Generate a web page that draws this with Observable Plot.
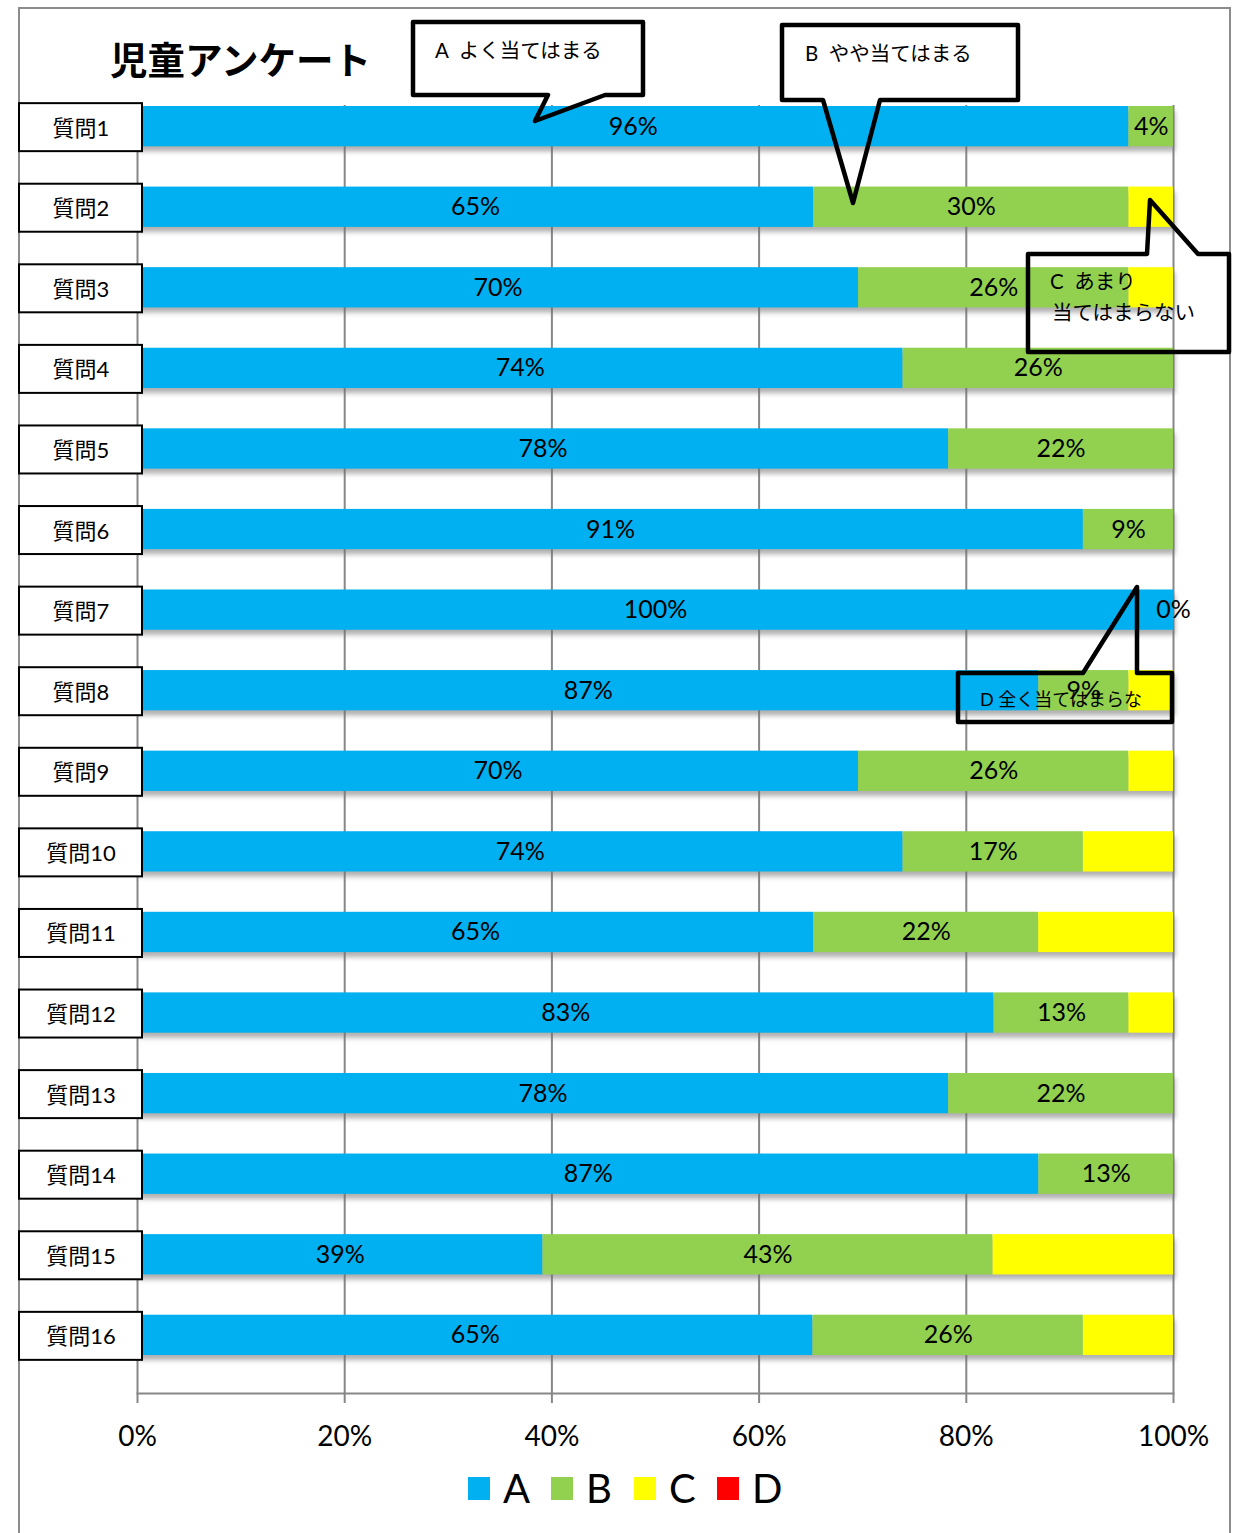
<!DOCTYPE html>
<html>
<head>
<meta charset="utf-8">
<script src="https://cdn.jsdelivr.net/npm/d3@7"></script>
<script src="https://cdn.jsdelivr.net/npm/@observablehq/plot@0.6"></script>
<style>
  html, body { margin: 0; padding: 0; background: #fff; }
  svg { display: block; }
</style>
</head>
<body>
<div id="chart"></div>
<script>
// ---- data ----
const questions = ["質問1","質問2","質問3","質問4","質問5","質問6","質問7","質問8","質問9","質問10","質問11","質問12","質問13","質問14","質問15","質問16"];
const categories = ["A","B","C","D"];
const categoryColors = ["#00B0F0","#92D050","#FFFF00","#FF0000"];
const valuesA = [95.7,65.2,69.6,73.9,78.3,91.3,100,87.0,69.6,73.9,65.2,82.6,78.3,87.0,39.1,65.2];
const valuesB = [4.3,30.4,26.1,26.1,21.7,8.7,0,8.7,26.1,17.4,21.7,13.0,21.7,13.0,43.4,26.1];
const valuesC = [0,4.3,4.3,0,0,0,0,4.3,4.3,8.7,13.0,4.3,0,0,17.4,8.7];
const valuesD = [0,0,0,0,0,0,0,0,0,0,0,0,0,0,0,0];
const tickValues = [0,20,40,60,80,100];
const title = "児童アンケート";
const calloutTexts = {
  A: ["A  よく当てはまる"],
  B: ["B  やや当てはまる"],
  C: ["C  あまり", "当てはまらない"],
  D: ["D 全く当てはまらな"]
};

// ---- build table ----
const seriesValues = [valuesA, valuesB, valuesC, valuesD];
const rows = [];
questions.forEach((q, i) => {
  categories.forEach((c, j) => rows.push({q, cat: c, value: seriesValues[j][i]}));
});

const W = 1242, H = 1533;
const labelFont = "Lato, 'Noto Sans CJK JP', sans-serif";
const jpFont = "'Noto Sans CJK JP', 'Noto Sans', sans-serif";

const plot = Plot.plot({
  width: W,
  height: H,
  marginLeft: 137,
  marginRight: 69,
  marginTop: 105,
  marginBottom: 140,
  style: {fontFamily: labelFont, background: "white"},
  x: {domain: [0, 1]},
  y: {domain: questions, range: [106, 1355], paddingInner: 0.5, paddingOuter: 0, round: false, axis: null},
  color: {domain: categories, range: categoryColors},
  marks: [
    Plot.gridX({ticks: tickValues.map(d => d / 100), stroke: "#878787", strokeOpacity: 1, strokeWidth: 2}),
    // bar shadow
    Plot.barX(questions, {y: d => d, x1: 0, x2: 1, fill: "#6f6f6f", fillOpacity: 0.55, dx: 2, dy: 5}),
    Plot.barX(rows, Plot.stackX({x: "value", y: "q", z: "cat", fill: "cat", offset: "normalize", order: categories})),
    Plot.text(rows, Plot.stackX({
      x: "value", y: "q", z: "cat", offset: "normalize", order: categories,
      text: d => (d.cat === "A" || d.cat === "B") ? Math.round(d.value) + "%" : null,
      fontSize: 25, fill: "black"
    })),
    Plot.frame({anchor: "bottom", stroke: "#878787", strokeWidth: 2}),
    Plot.axisX({
      ticks: tickValues.map(d => d / 100),
      tickFormat: d3.format(".0%"),
      tickSize: 10, tickPadding: 23,
      fontSize: 28, stroke: "#878787", strokeWidth: 2, fill: "black", label: null
    })
  ]
});

document.getElementById("chart").appendChild(plot);

const svg = d3.select(plot);
svg.attr("font-family", labelFont);

// blur the shadow bars
svg.select('g[aria-label="bar"]').style("filter", "blur(2.5px)");

// outer chart frame
svg.append("path")
  .attr("d", `M19,${H} V8 H1230 V${H}`)
  .attr("fill", "none").attr("stroke", "#8c8c8c").attr("stroke-width", 2);

// title
svg.append("text")
  .attr("x", 110).attr("y", 57)
  .attr("text-anchor", "start")
  .attr("dominant-baseline", "central")
  .attr("font-family", jpFont).attr("font-weight", 700).attr("font-size", 37.5)
  .text(title);

// question label boxes
const ys = plot.scale("y");
const bw = ys.bandwidth;
const gL = svg.append("g");
questions.forEach(q => {
  const cy = ys.apply(q) + bw / 2 + 1;
  gL.append("rect")
    .attr("x", 19).attr("y", cy - 24).attr("width", 123).attr("height", 48)
    .attr("fill", "white").attr("stroke", "black").attr("stroke-width", 2);
  gL.append("text")
    .attr("x", 81).attr("y", cy)
    .attr("text-anchor", "middle").attr("dominant-baseline", "central")
    .attr("font-size", 22).attr("fill", "black")
    .text(q);
});

// callouts
const callouts = [
  {key: "A", d: "M413,22 H643 V95 H605 L535,121 L548,95 H413 Z", tx: 435, ty: [50], fs: 20.5},
  {key: "B", d: "M782,25 H1018 V100 H880 L853,203 L823,100 H782 Z", tx: 805, ty: [53], fs: 20.5},
  {key: "C", d: "M1028,254 H1147 L1150,200 L1198,254 H1229 V352 H1028 Z", tx: 1050, ty: [281, 312], fs: 20.5},
  {key: "D", d: "M958,673 H1083 L1137,587 V673 H1172 V722 H958 Z", tx: 980, ty: [699], fs: 18}
];
const gC = svg.append("g");
callouts.forEach(c => {
  gC.append("path").attr("d", c.d)
    .attr("fill", "none").attr("stroke", "black").attr("stroke-width", 4.5)
    .attr("stroke-linejoin", "round");
  calloutTexts[c.key].forEach((t, i) => {
    gC.append("text")
      .attr("x", c.tx + (i > 0 ? 2 : 0)).attr("y", c.ty[i])
      .attr("text-anchor", "start")
      .attr("dominant-baseline", "central")
      .attr("font-family", labelFont).attr("font-size", c.fs).attr("fill", "black")
      .text(t);
  });
});

// legend
const gLeg = svg.append("g");
categories.forEach((c, i) => {
  const x0 = 468 + i * 83;
  gLeg.append("rect").attr("x", x0).attr("y", 1477).attr("width", 22).attr("height", 23)
    .attr("fill", categoryColors[i]);
  gLeg.append("text").attr("x", x0 + 35).attr("y", 1488)
    .attr("text-anchor", "start")
    .attr("dominant-baseline", "central")
    .attr("font-family", labelFont).attr("font-size", 40).attr("fill", "black")
    .text(c);
});
</script>
</body>
</html>
